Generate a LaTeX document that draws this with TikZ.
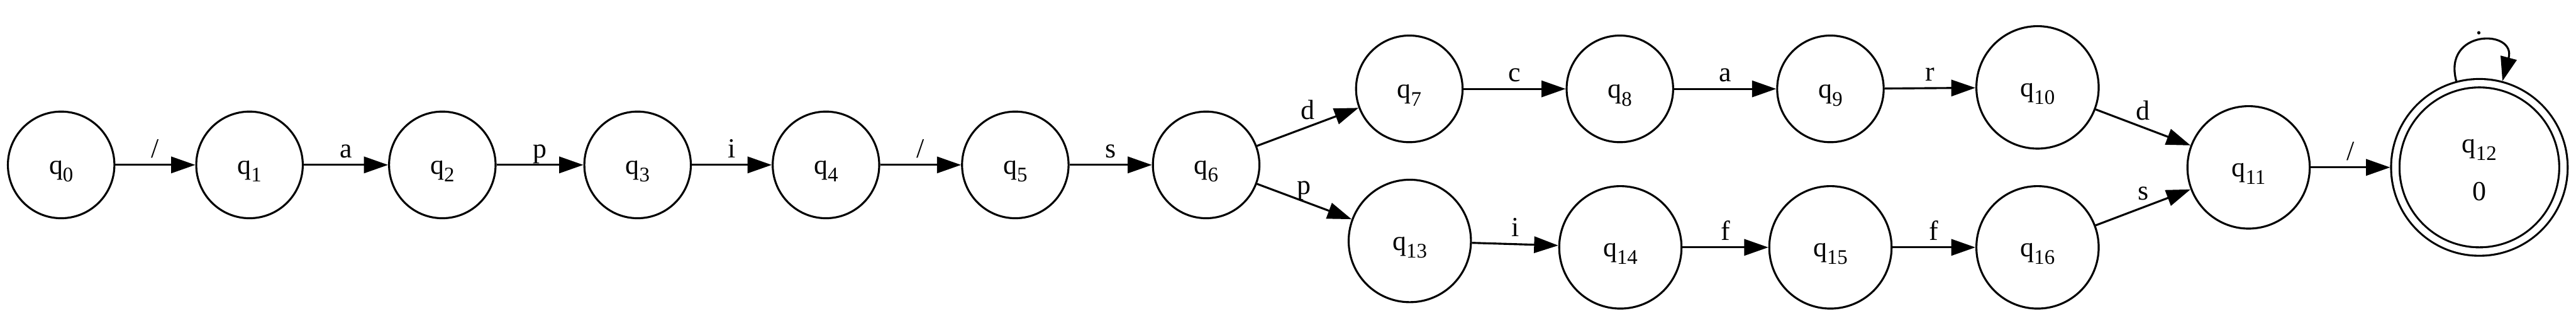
\documentclass[tikz,border=0pt]{standalone}
\usepackage{fontspec}
\setmainfont{Liberation Serif}
\usetikzlibrary{arrows.meta}

\newcommand{\qet}[1]{q\raisebox{-4pt}{\fontsize{10.5pt}{12pt}\selectfont #1}}

\begin{document}
\begin{tikzpicture}[x=25pt, y=-25pt]
	\tikzset{etat/.style={circle, draw=black, line width=1pt, inner sep=0pt, minimum size=54pt, text height=10pt, text depth=0.8pt, font=\fontsize{14pt}{17pt}\selectfont},
	grand/.style={minimum size=62pt},
	final/.style={double, double distance=3.25pt, minimum size=85.25pt, text height={}, text depth={}, align=center, outer sep=2.6pt},
	fleche/.style={line width=1pt, -{Triangle[length=12.25pt, width=8.3pt]}},
	etiq/.style={above=3.25pt, inner sep=0pt, text depth=0pt, font=\fontsize{14pt}{17pt}\selectfont}};

	\useasboundingbox (0,0) rectangle (52.24,6.44);

	\foreach \i/\x in {0/1.24, 1/5.06, 2/8.97, 3/12.93, 4/16.75, 5/20.59, 6/24.46}{
		\node[etat] (q\i) at (\x, 3.34) {\qet{\i}};
	}

	\node[etat] (q7) at (28.58, 1.80) {\qet{7}};
	\node[etat] (q8) at (32.85, 1.80) {\qet{8}};
	\node[etat] (q9) at (37.12, 1.80) {\qet{9}};
	\node[etat, grand] (q10) at (41.32, 1.77) {\qet{10}};
	\node[etat, grand] (q11) at (45.60, 3.39) {\qet{11}};
	\node[etat, final] (q12) at (50.28, 3.39) {\rule{0pt}{9.5pt}\qet{12}\\[7.5pt]0};
	\node[etat, grand] (q13) at (28.59, 4.88) {\qet{13}};
	\node[etat, grand] (q14) at (32.86, 5.01) {\qet{14}};
	\node[etat, grand] (q15) at (37.12, 5.01) {\qet{15}};
	\node[etat, grand] (q16) at (41.32, 5.01) {\qet{16}};

	\draw[fleche] (q0) to node[etiq] {/} (q1);
	\draw[fleche] (q1) to node[etiq] {a} (q2);
	\draw[fleche] (q2) to node[etiq] {p} (q3);
	\draw[fleche] (q3) to node[etiq] {i} (q4);
	\draw[fleche] (q4) to node[etiq] {/} (q5);
	\draw[fleche] (q5) to node[etiq] {s} (q6);

	\draw[fleche] (q6) to node[etiq] {d} (q7);
	\draw[fleche] (q7) to node[etiq] {c} (q8);
	\draw[fleche] (q8) to node[etiq] {a} (q9);
	\draw[fleche] (q9) to node[etiq] {r} (q10);
	\draw[fleche] (q10) to node[etiq] {d} (q11);

	\draw[fleche] (q6) to node[etiq] {p} (q13);
	\draw[fleche] (q13) to node[etiq] {i} (q14);
	\draw[fleche] (q14) to node[etiq] {f} (q15);
	\draw[fleche] (q15) to node[etiq] {f} (q16);
	\draw[fleche] (q16) to node[etiq] {s} (q11);

	\draw[fleche] (q11) to node[etiq] {/} (q12);
	\draw[fleche] (q12) to[out=105, in=75, looseness=3] node[etiq] {.} (q12);
\end{tikzpicture}
\end{document}
